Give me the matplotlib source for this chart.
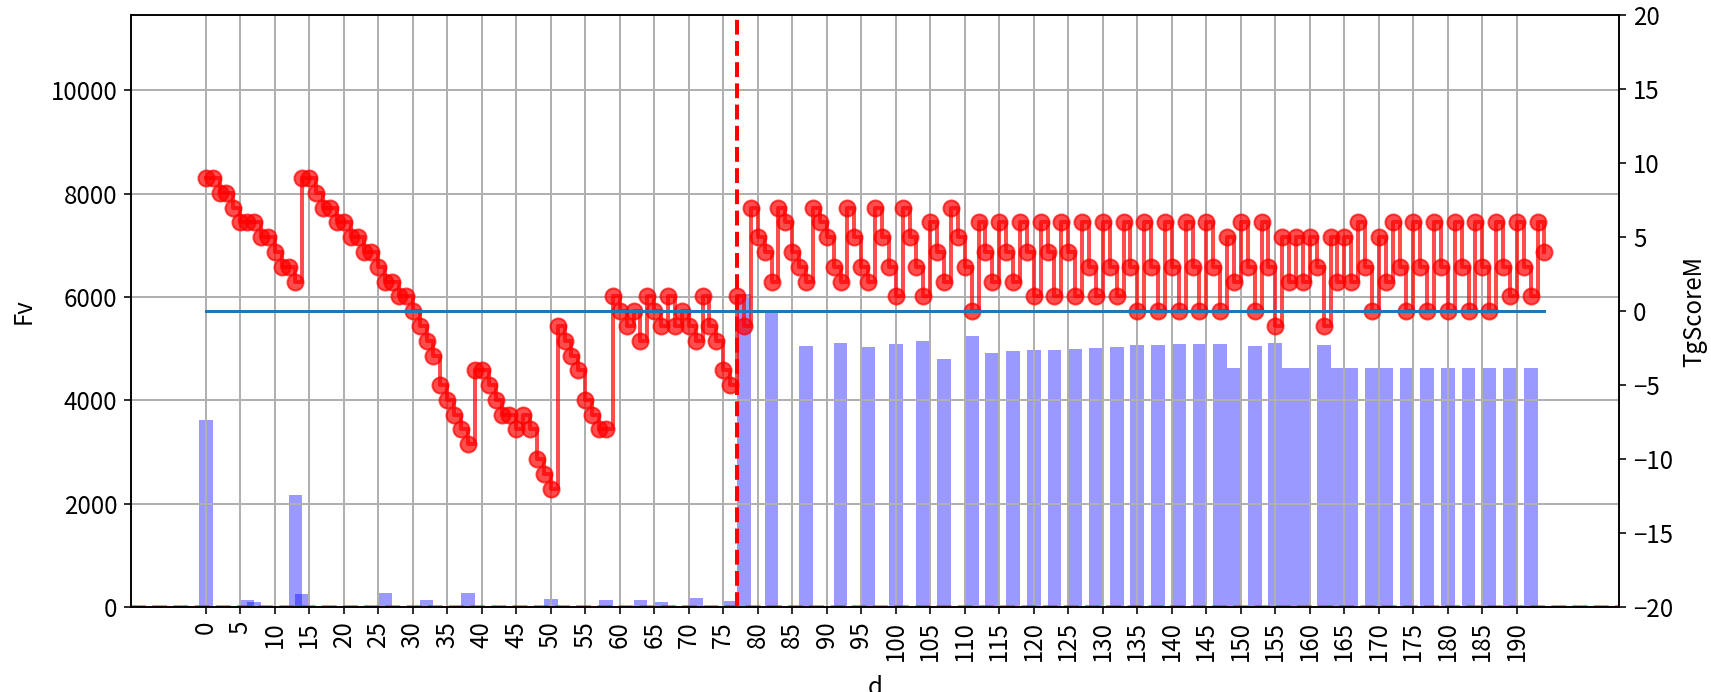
import numpy as np
import matplotlib.pyplot as plt

plt.rcParams['font.family'] = ['Noto Sans CJK JP', 'DejaVu Sans']
plt.rcParams['font.size'] = 12

# days 0..194
d = np.arange(195)

# TgScoreM per day (right axis)
tg_score = [
    9, 9, 8, 8, 7, 6, 6, 6, 5, 5, 4, 3, 3, 2,
    9, 9, 8, 7, 7, 6, 6, 5, 5, 4, 4, 3, 2, 2, 1, 1, 0, -1, -2, -3, -5, -6, -7, -8, -9,
    -4, -4, -5, -6, -7, -7, -8, -7, -8, -10, -11, -12,
    -1, -2, -3, -4, -6, -7, -8, -8,
    1, 0, -1, 0, -2, 1, 0, -1, 1, -1, 0, -1, -2, 1, -1, -2, -4, -5, 1, -1,
    7, 5, 4, 2, 7, 6, 4, 3, 2, 7, 6, 5, 3, 2, 7, 5, 3, 2, 7, 5, 3, 1,
    7, 5, 3, 1, 6, 4, 2, 7, 5, 3, 0,
    6, 4, 2, 6, 4, 2, 6, 4, 1, 6, 4, 1, 6, 4, 1, 6, 3, 1, 6, 3, 1, 6, 3,
    0,
    6, 3, 0, 6, 3, 0, 6, 3, 0, 6, 3, 0,
    5, 2, 6, 3, 0, 6, 3, -1,
    5, 2, 5, 2, 5, 3, -1,
    5, 2, 5, 2, 6, 3, 0,
    5, 2,
    6, 3, 0, 6, 3, 0, 6, 3, 0, 6, 3, 0, 6, 3, 0, 6, 3, 1, 6, 3, 1, 6, 4,
]

# Fv bars (left axis), only the days where it is non-zero
bar_days = [0, 6, 7, 13, 14, 26, 32, 38, 50, 58, 63, 66, 71, 76, 78,
            82, 87, 92, 96, 100, 104, 107, 111, 114, 117, 120, 123, 126, 129,
            132, 135, 138, 141, 144, 147, 149, 152, 155, 157, 159, 162, 164,
            166, 169, 171, 174, 177, 180, 183, 186, 189, 192]
bar_fv = [3610, 136, 97, 2175, 252, 272, 136, 272, 155, 136, 136, 97, 175, 116, 6060,
          5680, 5045, 5100, 5025, 5085, 5140, 4795, 5240, 4910, 4950, 4970, 4970, 4990, 5005,
          5025, 5065, 5065, 5085, 5085, 5085, 4620, 5045, 5105, 4620, 4620, 5065, 4620,
          4620, 4620, 4620, 4620, 4620, 4620, 4620, 4620, 4620, 4620]

split_day = 77

fv = np.zeros(len(d))
fv[bar_days] = bar_fv
zero_line = np.zeros(len(d))

fig, ax1 = plt.subplots(figsize=(1711 / 144, 692 / 144), dpi=144)
fig.subplots_adjust(left=0.0767, right=0.9462, top=0.978, bottom=0.1228)

ax1.bar(d, fv, width=2, color='blue', alpha=0.4)
ax1.axhline(0, color='red', linestyle='--', alpha=0.5, lw=2)
ax1.set_ylim(0, 11450)
ax1.set_ylabel('Fv', labelpad=7)
ax1.set_xlabel('d', labelpad=7)
ax1.set_xticks(np.arange(0, 195, 5))
ax1.tick_params(axis='x', rotation=90)
ax1.grid(True, lw=1.0)

ax2 = ax1.twinx()
ax2.plot(d, tg_score, 'o-', color='red', alpha=0.7, drawstyle='steps-post', lw=2, ms=8)
ax2.plot(d, zero_line, color='C0')
ax2.axvline(split_day, color='red', linestyle='--', lw=2)
ax2.set_ylim(-20, 20)
ax2.set_ylabel('TgScoreM')

fig.savefig('out.png', dpi=144)
